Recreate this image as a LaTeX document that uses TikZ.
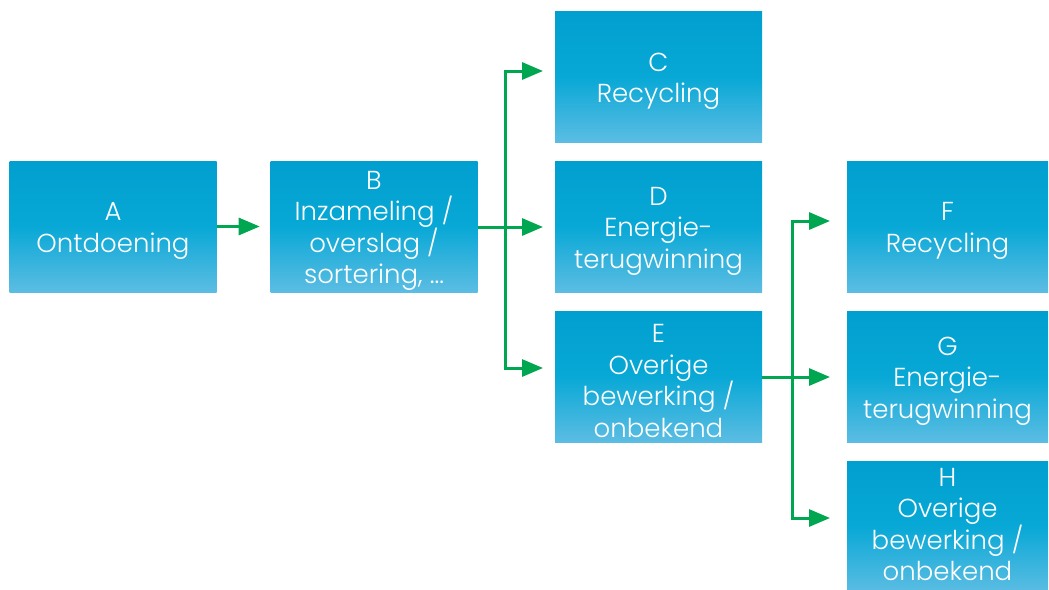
\documentclass[tikz,border=0pt]{standalone}
\usepackage{fontspec}
\setmainfont{Poppins}[UprightFont=* Light]
\usetikzlibrary{arrows.meta}
\definecolor{boxtop}{HTML}{009FCF}
\definecolor{boxmid}{HTML}{08A8D6}
\definecolor{boxbot}{HTML}{5CBDE3}
\definecolor{arrgreen}{HTML}{00A650}
\tikzset{
  flowbox/.style={minimum width=207pt, minimum height=131pt, inner sep=0pt,
    top color=boxtop, bottom color=boxbot, middle color=boxmid},
  smallbox/.style={flowbox, minimum width=201pt},
  boxtext/.style={text=white, align=center, inner sep=0pt,
    font=\fontsize{26}{31.5}\selectfont},
  conn/.style={draw=arrgreen, line width=3pt},
  arr/.style={conn, -{Triangle[length=21pt,width=17pt]}},
}
\begin{document}
\begin{tikzpicture}[x=1pt,y=-1pt]
\useasboundingbox (0,0) rectangle (1049,589);
\node[flowbox] (A) at (113,226.5) {};
\node[flowbox] (B) at (374,226.5) {};
\node[flowbox] (C) at (658.5,77) {};
\node[flowbox] (D) at (658.5,226.5) {};
\node[flowbox] (E) at (658.5,376.5) {};
\node[smallbox] (F) at (947.5,226.5) {};
\node[smallbox] (G) at (947.5,376.5) {};
\node[smallbox] (H) at (947.5,526.5) {};
\node[boxtext] (At) at ([yshift=-4.5pt]A.center) {A\\Ontdoening};
\node[boxtext] (Bt) at ([yshift=-4.5pt]B.center) {B\\Inzameling /\\overslag /\\sortering, ...};
\node[boxtext] (Ct) at ([yshift=-4.5pt]C.center) {C\\Recycling};
\node[boxtext] (Dt) at ([yshift=-4.5pt]D.center) {D\\Energie-\\terugwinning};
\node[boxtext] (Et) at ([yshift=-4.5pt]E.center) {E\\Overige\\bewerking /\\onbekend};
\node[boxtext] (Ft) at ([yshift=-4.5pt]F.center) {F\\Recycling};
\node[boxtext] (Gt) at ([yshift=-4.5pt]G.center) {G\\Energie-\\terugwinning};
\node[boxtext] (Ht) at ([yshift=2pt]H.center) {H\\Overige\\bewerking /\\onbekend};
\coordinate (j1) at (505,227);
\coordinate (j2) at (792,377);
\draw[arr] (A.east) -- ++(43,0);
\draw[conn] (B.east |- j1) -- (j1);
\draw[arr] (j1) -- (543,227);
\draw[arr] (j1) -- (505,71) -- (543,71);
\draw[arr] (j1) -- (505,368) -- (543,368);
\draw[conn] (E.east |- j2) -- (j2);
\draw[arr] (j2) -- (830,377);
\draw[arr] (j2) -- (792,221) -- (830,221);
\draw[arr] (j2) -- (792,518) -- (830,518);
\end{tikzpicture}
\end{document}
